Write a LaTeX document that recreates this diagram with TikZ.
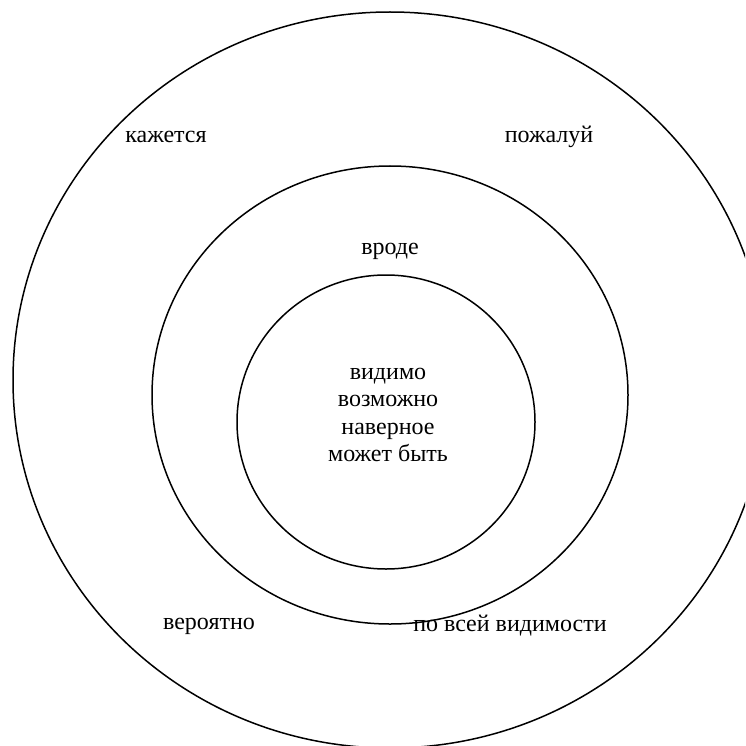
\documentclass[tikz,border=0pt]{standalone}
\usepackage{fontspec}
\setmainfont{Liberation Serif}
\tikzset{
  ring/.style={line width=1.5pt},
  word/.style={font=\fontsize{24}{27.5}\selectfont, inner sep=0pt, align=center}
}
\begin{document}
\begin{tikzpicture}[x=1pt, y=-1pt]

  \useasboundingbox (0,0) rectangle (745,746);
  \clip (0,0) rectangle (745,746);

  % --- anelli ---
  \draw[ring] (390,380) ellipse [x radius=377, y radius=368];
  \draw[ring] (390,395) ellipse [x radius=238, y radius=229];
  \draw[ring] (386,422) ellipse [x radius=149, y radius=147];

  % --- anello esterno ---
  \node[word] (kazhetsya) at (166,137) {кажется};
  \node[word] (pozhaluy)  at (549,137) {пожалуй};
  \node[word] (veroyatno) at (209,626) {вероятно};
  \node[word] (povsey)    at (510,626) {по всей видимости};

  % --- anello medio ---
  \node[word] (vrode) at (390,251) {вроде};

  % --- centro ---
  \node[word] (centro) at (388,415) {видимо\\возможно\\наверное\\может быть};

\end{tikzpicture}
\end{document}
